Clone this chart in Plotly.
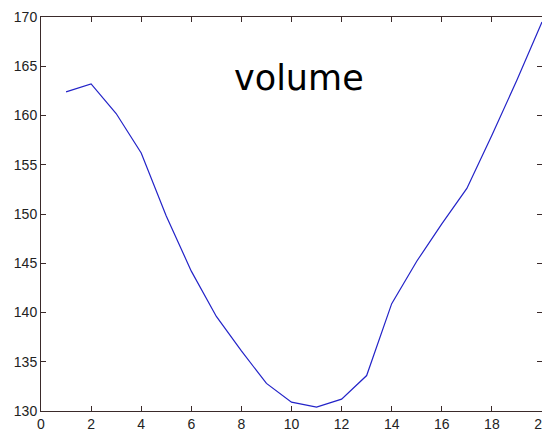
import plotly.graph_objects as go

# volume curve
x_vals = list(range(1, 21))
volume = [162.4, 163.2, 160.2, 156.2, 149.8, 144.2, 139.6, 136.1, 132.8, 130.9,
          130.4, 131.2, 133.6, 140.9, 145.2, 149.0, 152.6, 158.0, 163.6, 169.5]
x_ticks = list(range(0, 21, 2))
y_ticks = list(range(130, 171, 5))
label_text = "volume"

tick_font = dict(family="Liberation Sans", size=14, color="#222222")
frame_colour = "#3a2a2a"

fig = go.Figure(
    go.Scatter(
        x=x_vals,
        y=volume,
        mode="lines",
        line=dict(color="#2323c8", width=1.2),
        showlegend=False,
    )
)

axis_style = dict(
    ticks="inside",
    ticklen=5,
    tickwidth=1,
    tickcolor=frame_colour,
    showline=True,
    linecolor=frame_colour,
    linewidth=1,
    mirror="ticks",
    showgrid=False,
    zeroline=False,
    tickfont=tick_font,
    automargin=False,
)
fig.update_xaxes(range=[0, 20], tickvals=x_ticks, **axis_style)
fig.update_yaxes(range=[130, 170], tickvals=y_ticks, **axis_style)

# page body has an 8px margin, so the figure is a bit smaller than the window;
# enough room left so the end tick labels (170, 20) are not dropped
fig.update_layout(
    width=542,
    height=425,
    autosize=False,
    margin=dict(l=33, r=8, t=9, b=22, pad=0),
    paper_bgcolor="white",
    plot_bgcolor="white",
    annotations=[
        dict(
            x=10.3,
            y=163.8,
            xref="x",
            yref="y",
            text=label_text,
            showarrow=False,
            font=dict(family="DejaVu Sans", size=35, color="black"),
        )
    ],
)

fig.write_html("out.html")
